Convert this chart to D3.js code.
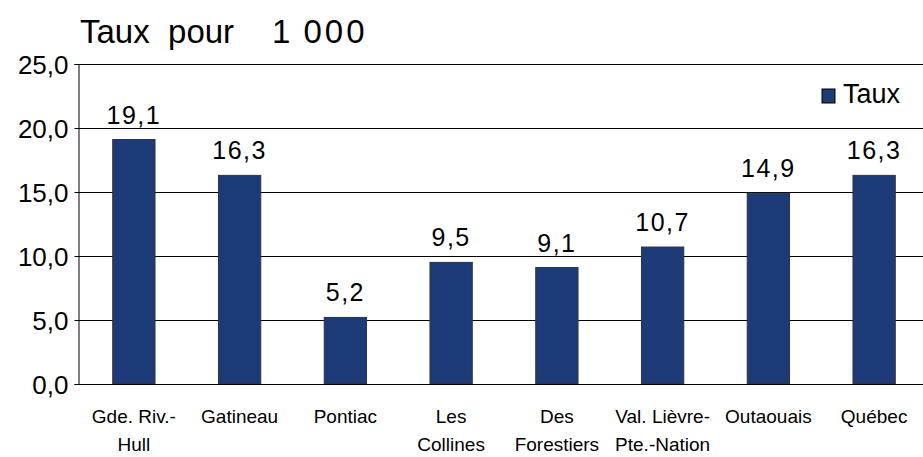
<!DOCTYPE html>
<html>
<head>
<meta charset="utf-8">
<script src="https://cdn.jsdelivr.net/npm/d3@7"></script>
<style>
  body { margin: 0; background: #fff; }
  text { font-family: "Liberation Sans", Arial, sans-serif; fill: #000; }
</style>
</head>
<body>
<div id="chart"></div>
<script>
const categories = ["Gde. Riv.-|Hull", "Gatineau", "Pontiac", "Les|Collines", "Des|Forestiers", "Val. Lièvre-|Pte.-Nation", "Outaouais", "Québec"];
const values = [19.1, 16.3, 5.2, 9.5, 9.1, 10.7, 14.9, 16.3];
const yTicks = [0, 5, 10, 15, 20, 25];
const seriesName = "Taux";
const titleParts = ["Taux  pour", "1", "000"];

const width = 923, height = 457;
const margin = {top: 64, right: 0, bottom: 73, left: 78};

const svg = d3.select("#chart").append("svg")
    .attr("width", width)
    .attr("height", height);

const x = d3.scaleBand()
    .domain(categories)
    .range([margin.left + 3, margin.left + 3 + 8 * 105.75])
    .paddingInner(0.6)
    .paddingOuter(0.3);

const y = d3.scaleLinear()
    .domain([0, 25])
    .range([height - margin.bottom, margin.top]);

const fmt = v => v.toFixed(1).replace(".", ",");

// gridlines
svg.append("g")
    .selectAll("line")
    .data(yTicks)
    .join("line")
    .attr("x1", margin.left)
    .attr("x2", width)
    .attr("y1", d => Math.round(y(d)) + 0.5)
    .attr("y2", d => Math.round(y(d)) + 0.5)
    .attr("stroke", "#000")
    .attr("stroke-width", 1);

// y axis
const yAxis = svg.append("g")
    .attr("transform", "translate(" + (margin.left + 0.5) + ",0)")
    .call(d3.axisLeft(y).tickValues(yTicks).tickSize(4).tickFormat(fmt));
yAxis.select(".domain").attr("stroke", "#000");
yAxis.selectAll("line").attr("stroke", "#000");
yAxis.selectAll("text")
    .attr("x", -10)
    .attr("dy", "0.36em")
    .style("font-size", "26px");

// bars
svg.append("g")
    .selectAll("rect")
    .data(values)
    .join("rect")
    .attr("x", (d, i) => x(categories[i]))
    .attr("y", d => y(d))
    .attr("width", x.bandwidth())
    .attr("height", d => y(0) - y(d))
    .attr("fill", "#1d3b78")
    .attr("stroke", "#333")
    .attr("stroke-width", 1);

// value labels
svg.append("g")
    .selectAll("text")
    .data(values)
    .join("text")
    .attr("x", (d, i) => x(categories[i]) + x.bandwidth() / 2)
    .attr("y", d => y(d) - 16)
    .attr("text-anchor", "middle")
    .style("font-size", "25px")
    .style("letter-spacing", "1.5px")
    .text(fmt);

// x labels
const xl = svg.append("g")
    .selectAll("text")
    .data(categories)
    .join("text")
    .attr("x", d => x(d) + x.bandwidth() / 2)
    .attr("y", 423)
    .attr("text-anchor", "middle")
    .style("font-size", "19px");
xl.selectAll("tspan")
    .data(d => d.split("|"))
    .join("tspan")
    .attr("x", function () { return this.parentNode.getAttribute("x"); })
    .attr("dy", (d, i) => i === 0 ? 0 : 28)
    .text(d => d);

// x axis line
svg.append("line")
    .attr("x1", margin.left)
    .attr("x2", width)
    .attr("y1", Math.round(y(0)) + 0.5)
    .attr("y2", Math.round(y(0)) + 0.5)
    .attr("stroke", "#000");

// title
const t = svg.append("text")
    .attr("x", 80)
    .attr("y", 43)
    .style("font-size", "33px")
    .style("white-space", "pre");
t.append("tspan").text(titleParts[0]);
t.append("tspan").attr("dx", 38).text(titleParts[1]);
t.append("tspan").attr("dx", 13).style("letter-spacing", "3px").text(titleParts[2]);

// legend
const lg = svg.append("g").attr("transform", "translate(822,89)");
lg.append("rect")
    .attr("width", 13)
    .attr("height", 14)
    .attr("fill", "#1d3b78")
    .attr("stroke", "#000");
lg.append("text")
    .attr("x", 21)
    .attr("y", 14)
    .style("font-size", "27px")
    .text(seriesName);
</script>
</body>
</html>
